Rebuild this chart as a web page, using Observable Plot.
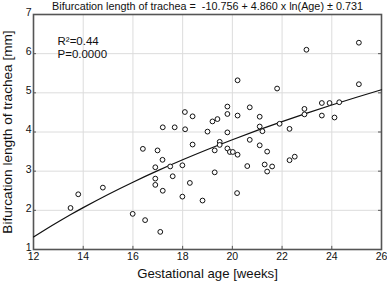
<!DOCTYPE html>
<html>
<head>
<meta charset="utf-8">
<script src="https://cdn.jsdelivr.net/npm/d3@7"></script>
<script src="https://cdn.jsdelivr.net/npm/@observablehq/plot@0.6"></script>
<style>
  html, body { margin: 0; padding: 0; background: white; }
</style>
</head>
<body>
<div id="chart"></div>
<script>
const titleText = "Bifurcation length of trachea =  -10.756 + 4.860 x ln(Age) ± 0.731";
const xLabel = "Gestational age [weeks]";
const yLabel = "Bifurcation length of trachea [mm]";
const statsR = "R²=0.44";
const statsP = "P=0.0000";

const xTicks = [12, 14, 16, 18, 20, 22, 24, 26];
const yTicks = [1, 2, 3, 4, 5, 6, 7];

// regression coefficients from the title
const intercept = -10.756;
const slope = 4.860;
const curveAges = [12, 12.5, 13, 13.5, 14, 15, 16, 17, 18, 19, 20, 21, 22, 23, 24, 25, 26];

const ages = [
  13.49, 13.80, 14.79, 15.99, 16.40, 16.99, 17.19, 16.90, 17.50, 17.99,
  16.90, 17.60, 16.90, 17.20, 18.29, 17.99, 18.80, 16.49, 17.10, 18.40,
  18.09, 18.40, 17.20, 17.68, 18.10, 19.00, 19.20, 19.40, 19.49, 19.49,
  19.29, 19.29, 20.21, 21.80, 19.80, 19.80, 20.70, 21.10, 20.21, 21.10,
  19.80, 21.21, 22.30, 21.90, 20.70, 21.10, 19.80, 19.90, 20.02, 20.21,
  21.40, 20.60, 21.30, 21.60, 22.30, 22.51, 21.40, 20.19, 25.09, 22.98,
  25.09, 23.60, 23.91, 24.30, 22.90, 22.90, 23.60, 24.11
];
const lengths = [
  2.06, 2.41, 2.58, 1.91, 3.57, 3.53, 3.29, 3.10, 3.12, 3.15,
  2.81, 2.87, 2.65, 2.50, 2.70, 2.35, 2.25, 1.75, 1.45, 3.68,
  4.51, 4.40, 4.12, 4.12, 4.07, 4.01, 4.27, 4.33, 3.75, 3.67,
  3.53, 2.97, 5.32, 5.11, 4.65, 4.46, 4.63, 4.39, 4.42, 4.14,
  3.99, 4.02, 4.08, 4.21, 3.80, 3.66, 3.58, 3.49, 3.49, 3.42,
  3.50, 3.13, 3.17, 3.12, 3.28, 3.37, 2.99, 2.44, 6.28, 6.10,
  5.22, 4.74, 4.74, 4.76, 4.59, 4.45, 4.42, 4.37
];

const points = ages.map((a, i) => ({age: a, len: lengths[i]}));
const curve = curveAges.map(a => ({age: a, len: intercept + slope * Math.log(a)}));

const font = "'Liberation Sans', Arial, Helvetica, sans-serif";

const chart = Plot.plot({
  width: 387,
  height: 283,
  marginLeft: 33,
  marginRight: 6,
  marginTop: 14,
  marginBottom: 34,
  style: {fontFamily: font, fontSize: "10.5px", background: "white", color: "#111"},
  x: {domain: [12, 26], ticks: xTicks, label: null},
  y: {domain: [1, 7], ticks: yTicks, label: null},
  marks: [
    Plot.gridX(xTicks, {stroke: "#dcdcdc", strokeOpacity: 1}),
    Plot.gridY(yTicks, {stroke: "#dcdcdc", strokeOpacity: 1}),
    Plot.ruleX(xTicks, {x: d => d, y1: 1, y2: 1.08, stroke: "#555"}),
    Plot.ruleY(yTicks, {y: d => d, x1: 12, x2: 12.12, stroke: "#555"}),
    Plot.ruleY(yTicks, {y: d => d, x1: 25.88, x2: 26, stroke: "#555"}),
    Plot.frame({stroke: "#555", strokeWidth: 1.6}),
    Plot.line(curve, {x: "age", y: "len", stroke: "#111", strokeWidth: 1.2, curve: "natural"}),
    Plot.dot(points, {x: "age", y: "len", r: 2.4, stroke: "#111", strokeWidth: 1, fill: "white"}),
    Plot.axisX(xTicks, {tickSize: 0, tickPadding: 3, fontSize: 10.5, label: null}),
    Plot.axisY(yTicks, {tickSize: 0, tickPadding: 2, dy: -2, fontSize: 10.5, label: null}),
    Plot.text([titleText], {frameAnchor: "top", dy: -8, fontSize: 10.8, fill: "#111", lineAnchor: "middle"}),
    Plot.text([xLabel], {frameAnchor: "bottom", dy: 24, fontSize: 13.2, fill: "#111", lineAnchor: "middle"}),
    Plot.text([yLabel], {frameAnchor: "left", dx: -26, rotate: -90, fontSize: 13.6, fill: "#111", textAnchor: "middle", lineAnchor: "middle"}),
    Plot.text([statsR], {frameAnchor: "top-left", dx: 24, dy: 27, fontSize: 11.5, fill: "#111", textAnchor: "start", lineAnchor: "middle"}),
    Plot.text([statsP], {frameAnchor: "top-left", dx: 24, dy: 40, fontSize: 11.5, fill: "#111", textAnchor: "start", lineAnchor: "middle"})
  ]
});

document.getElementById("chart").appendChild(chart);
</script>
</body>
</html>
